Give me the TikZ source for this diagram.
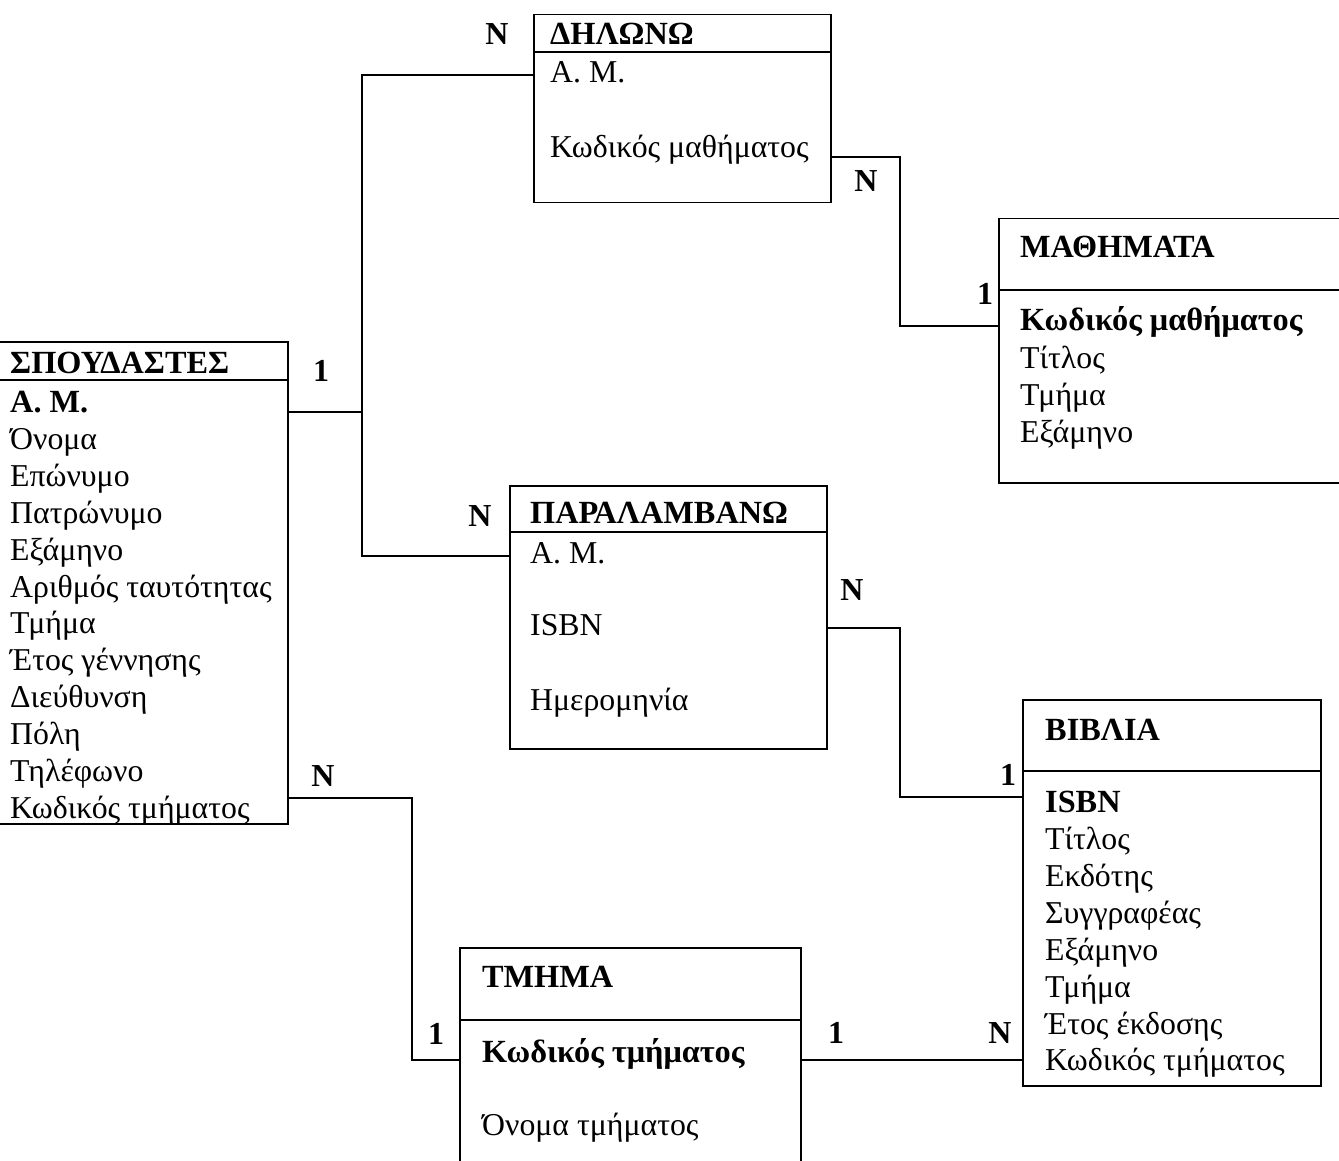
\documentclass[tikz,border=0pt]{standalone}
\usepackage{fontspec}
\setmainfont{Liberation Serif}
\usetikzlibrary{positioning,calc}

\begin{document}
\begin{tikzpicture}[x=1pt,y=-1pt,
    tbl/.style={draw,line width=1.5pt,inner sep=0pt,anchor=north west},
    fld/.style={anchor=base west,inner sep=0pt,font=\fontsize{31.8}{36}\selectfont},
    ttl/.style={fld,font=\fontsize{32.3}{36}\selectfont\bfseries},
    card/.style={anchor=base,inner sep=0pt,font=\fontsize{32}{36}\selectfont\bfseries},
    link/.style={line width=1.5pt}]
      \useasboundingbox (0,0) rectangle (1339,1161);
      \clip (0,0) rectangle (1339,1161);

      % tables
      \node[tbl,minimum width=290pt,minimum height=482pt] (spoud) at (-3,341) {};
      \node[tbl,minimum width=297pt,minimum height=188pt] (dilono) at (533,14) {};
      \node[tbl,minimum width=350pt,minimum height=264pt] (math) at (998,218) {};
      \node[tbl,minimum width=317pt,minimum height=263pt] (param) at (509,485) {};
      \node[tbl,minimum width=298pt,minimum height=386pt] (vivl) at (1022,699) {};
      \node[tbl,minimum width=341pt,minimum height=240pt] (tmima) at (459,947) {};

      \draw[link] (spoud.west |- 0,380) -- (spoud.east |- 0,380);
      \draw[link] (dilono.west |- 0,52) -- (dilono.east |- 0,52);
      \draw[link] (math.west |- 0,290) -- (math.east |- 0,290);
      \draw[link] (param.west |- 0,532) -- (param.east |- 0,532);
      \draw[link] (vivl.west |- 0,771) -- (vivl.east |- 0,771);
      \draw[link] (tmima.west |- 0,1020) -- (tmima.east |- 0,1020);

      \node[ttl] (sp0) at (10,373) {ΣΠΟΥΔΑΣΤΕΣ};
      \node[ttl] (sp1) at (10,412) {Α. Μ.};
      \node[fld] (sp2) at (10,449) {Όνομα};
      \node[fld] (sp3) at (10,486) {Επώνυμο};
      \node[fld] (sp4) at (10,523) {Πατρώνυμο};
      \node[fld] (sp5) at (10,560) {Εξάμηνο};
      \node[fld] (sp6) at (10,597) {Αριθμός ταυτότητας};
      \node[fld] (sp7) at (10,633) {Τμήμα};
      \node[fld] (sp8) at (10,670) {Έτος γέννησης};
      \node[fld] (sp9) at (10,707) {Διεύθυνση};
      \node[fld] (sp10) at (10,744) {Πόλη};
      \node[fld] (sp11) at (10,781) {Τηλέφωνο};
      \node[fld] (sp12) at (10,818) {Κωδικός τμήματος};

      \node[ttl] (dl0) at (550,45) {ΔΗΛΩΝΩ};
      \node[fld] (dl1) at (550,83) {Α. Μ.};
      \node[fld] (dl2) at (550,158) {Κωδικός μαθήματος};

      \node[ttl] (ma0) at (1020,258) {ΜΑΘΗΜΑΤΑ};
      \node[ttl] (ma1) at (1020,330) {Κωδικός μαθήματος};
      \node[fld] (ma2) at (1020,368) {Τίτλος};
      \node[fld] (ma3) at (1020,405) {Τμήμα};
      \node[fld] (ma4) at (1020,442) {Εξάμηνο};

      \node[ttl] (pa0) at (530,523) {ΠΑΡΑΛΑΜΒΑΝΩ};
      \node[fld] (pa1) at (530,563) {Α. Μ.};
      \node[fld] (pa2) at (530,635) {ISBN};
      \node[fld] (pa3) at (530,710) {Ημερομηνία};

      \node[ttl] (vi0) at (1045,740) {ΒΙΒΛΙΑ};
      \node[ttl] (vi1) at (1045,812) {ISBN};
      \node[fld] (vi2) at (1045,849) {Τίτλος};
      \node[fld] (vi3) at (1045,886) {Εκδότης};
      \node[fld] (vi4) at (1045,923) {Συγγραφέας};
      \node[fld] (vi5) at (1045,960) {Εξάμηνο};
      \node[fld] (vi6) at (1045,997) {Τμήμα};
      \node[fld] (vi7) at (1045,1034) {Έτος έκδοσης};
      \node[fld] (vi8) at (1045,1070) {Κωδικός τμήματος};

      \node[ttl] (tm0) at (482,987) {ΤΜΗΜΑ};
      \node[ttl] (tm1) at (482,1062) {Κωδικός τμήματος};
      \node[fld] (tm2) at (482,1135) {Όνομα τμήματος};

      % relationships
      \draw[link] (spoud.east |- 0,412) -- (362,412);
      \draw[link] (dilono.west |- 0,75) -| (362,556) -- (param.west |- 0,556);
      \draw[link] (dilono.east |- 0,157) -| (900,326) -- (math.west |- 0,326);
      \draw[link] (param.east |- 0,628) -| (900,797) -- (vivl.west |- 0,797);
      \draw[link] (spoud.east |- 0,798) -| (412,1060) -- (tmima.west |- 0,1060);
      \draw[link] (tmima.east |- 0,1060) -- (vivl.west |- 0,1060);

      \node[card] (c1) at (321,381) {1};
      \node[card] (c2) at (497,45) {N};
      \node[card] (c3) at (480,526) {N};
      \node[card] (c4) at (866,192) {N};
      \node[card] (c5) at (985,304) {1};
      \node[card] (c6) at (852,600) {N};
      \node[card] (c7) at (1008,785) {1};
      \node[card] (c8) at (323,786) {N};
      \node[card] (c9) at (436,1044) {1};
      \node[card] (c10) at (836,1043) {1};
      \node[card] (c11) at (1000,1043) {N};
    \end{tikzpicture}
\end{document}
